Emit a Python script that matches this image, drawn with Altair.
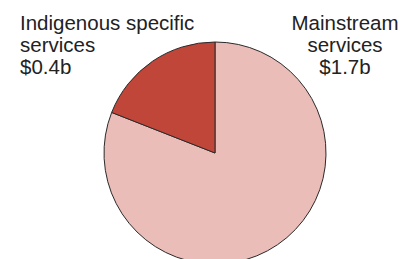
import altair as alt
import pandas as pd

categories = ["Mainstream services", "Indigenous specific services"]
values = [1.7, 0.4]
colors = ["#EBBDB8", "#C0463A"]

label_left = ["Indigenous specific", "services", "$0.4b"]
label_right = ["Mainstream", "services", "$1.7b"]

pie_df = pd.DataFrame({"category": categories, "value": values, "idx": [0, 1]})

pie = alt.Chart(pie_df).mark_arc(stroke="#2a2a2a", strokeWidth=1).encode(
    theta=alt.Theta("value:Q", stack=True),
    order=alt.Order("idx:Q"),
    color=alt.Color("category:N", scale=alt.Scale(domain=categories, range=colors), legend=None),
    x=alt.value(207),
    y=alt.value(145),
    radius=alt.value(111),
)

font = "Liberation Sans"
line_y = [22, 44, 66]


def text_layer(lines, x, align):
    layers = []
    for i, t in enumerate(lines):
        layers.append(
            alt.Chart(pd.DataFrame({"text": [t]})).mark_text(
                font=font, fontSize=20.5, align=align, baseline="alphabetic", color="#222222"
            ).encode(text="text:N", x=alt.value(x), y=alt.value(line_y[i]))
        )
    return layers


chart = alt.layer(
    pie,
    *text_layer(label_left, 12, "left"),
    *text_layer(label_right, 337, "center"),
).properties(
    width=394, height=251, padding=0, autosize="none"
).configure_view(stroke=None)

chart.save("out.html", embed_options={"renderer": "svg", "actions": False})
